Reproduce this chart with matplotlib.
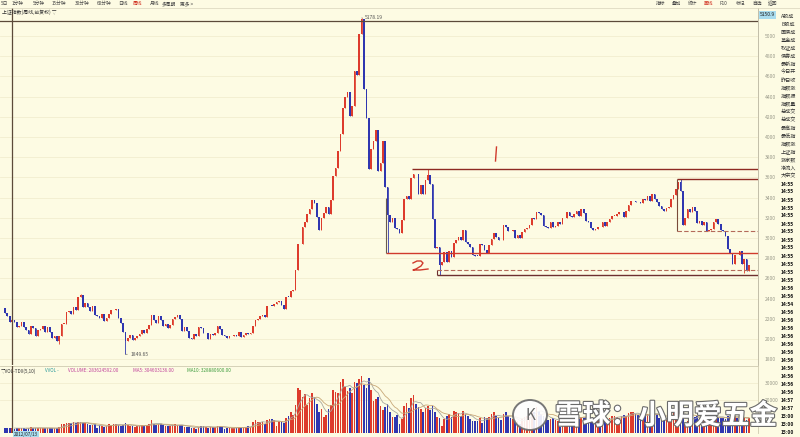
import numpy as np
import pandas as pd
import matplotlib
matplotlib.use("Agg")
import matplotlib.pyplot as plt
import matplotlib.patheffects as pe
from matplotlib.lines import Line2D
from matplotlib.patches import Ellipse

plt.rcParams['font.family'] = ['Noto Sans CJK SC', 'DejaVu Sans']

# weekly closes, Shanghai composite, mid 2012 -> Aug 2018 (holiday weeks skipped)
c2012 = [2260, 2225, 2171, 2185, 2168, 2117, 2132, 2168, 2115, 2092, 2047, 2127, 2114, 2027,
         2086, 2104, 2128, 2066, 2117, 2069, 2015, 2027, 1980, 2033, 2150, 2153, 2269]
c2013 = [2276, 2243, 2317, 2292, 2419, 2432, 2314, 2359, 2318, 2278, 2328, 2237, 2226, 2206,
         2244, 2177, 2205, 2246, 2283, 2288, 2301, 2210, 2162, 2073, 1979, 2007, 2039, 1992,
         2010, 2029, 2052, 2085, 2057, 2098, 2139, 2236, 2191, 2160, 2228, 2193, 2133, 2149,
         2106, 2135, 2197, 2220, 2237, 2196, 2084, 2116]
c2014 = [2083, 2013, 2004, 2054, 2033, 2115, 2113, 2056, 2057, 2004, 2047, 2041, 2058, 2130,
         2097, 2036, 2026, 2011, 2026, 2034, 2039, 2029, 2070, 2025, 2036, 2059, 2046, 2059,
         2126, 2185, 2194, 2226, 2240, 2217, 2326, 2331, 2329, 2347, 2364, 2374, 2341, 2302,
         2420, 2418, 2478, 2487, 2683, 2938, 2938, 3108, 3157, 3235]
c2015 = [3286, 3376, 3351, 3210, 3076, 3203, 3246, 3310, 3241, 3373, 3617, 3691, 3863, 4034,
         4287, 4394, 4441, 4205, 4308, 4657, 4611, 5023, 5166, 4478, 4192, 3686, 3877, 3957,
         4070, 3664, 3744, 3965, 3507, 3232, 3160, 3200, 3097, 3092, 3053, 3183, 3391, 3412,
         3383, 3590, 3632, 3630, 3436, 3525, 3434, 3578, 3627, 3539]
c2016 = [3186, 2900, 2916, 2737, 2763, 2860, 2767, 2874, 2810, 2955, 2979, 3009, 2984, 3078,
         2960, 2938, 2913, 2827, 2825, 2822, 2938, 2927, 2885, 2854, 2933, 2988, 3054, 3012,
         2979, 2976, 3125, 3108, 3070, 3067, 3078, 3002, 3033, 3004, 3063, 3090, 3104, 3125,
         3196, 3192, 3261, 3243, 3232, 3122, 3110, 3103]
c2017 = [3154, 3112, 3123, 3159, 3140, 3196, 3202, 3253, 3218, 3212, 3237, 3269, 3222, 3286,
         3246, 3173, 3154, 3103, 3083, 3090, 3107, 3105, 3158, 3123, 3157, 3192, 3217, 3222,
         3237, 3253, 3262, 3208, 3268, 3331, 3365, 3365, 3353, 3352, 3348, 3390, 3378, 3416,
         3371, 3432, 3382, 3353, 3317, 3289, 3266, 3297, 3307]
c2018 = [3391, 3429, 3487, 3558, 3462, 3129, 3199, 3289, 3254, 3307, 3269, 3152, 3168, 3131,
         3159, 3071, 3082, 3091, 3163, 3193, 3141, 3075, 3067, 3021, 2889, 2847, 2747, 2831,
         2829, 2874, 2740, 2795, 2669, 2729]
first_open = 2306

# weekly volume (axis units)
v2012 = [3200, 2900, 3100, 2800, 2700, 3000, 2900, 3100, 2800, 2700, 2900, 3600, 3300, 2800,
         3100, 2900, 3300, 2900, 3000, 2800, 2900, 2800, 3100, 3600, 5200, 5600, 6200]
v2013 = [6100, 5800, 6600, 6000, 6800, 6400, 5900, 6200, 5400, 4600, 4700, 5200, 3300, 4700,
         4400, 3900, 4000, 5300, 5000, 5300, 5600, 4900, 4300, 4800, 5900, 4700, 4500, 4100,
         3900, 4200, 4400, 4900, 4300, 5000, 5300, 8000, 5400, 4700, 5600, 5300, 4800, 4300,
         4200, 4100, 4900, 5300, 5000, 4700, 4600, 3800]
v2014 = [3500, 3600, 3200, 3300, 2300, 3900, 4500, 4400, 3500, 3300, 3500, 3400, 3700, 4400,
         4300, 3500, 2600, 3000, 3100, 3000, 3200, 3200, 3500, 3200, 3400, 3900, 4200, 3900,
         6400, 7600, 6900, 6500, 6800, 5500, 7600, 8500, 8300, 7600, 4500, 7500, 7000, 6200,
         9200, 10500, 12500, 11000, 17000, 27000, 26000, 22000, 23500, 17000]
v2015 = [21500, 24000, 22000, 17500, 13000, 14500, 9500, 11000, 14500, 17000, 26000, 25000,
         24000, 31000, 33000, 28000, 25500, 27000, 24500, 31000, 30500, 33000, 34500, 29000,
         27500, 33500, 26000, 19500, 20500, 22000, 16500, 14000, 15500, 17500, 12500, 9800,
         9500, 11000, 5200, 8600, 16500, 18000, 15000, 21500, 23000, 17500, 15500, 14500,
         13000, 15000, 16500, 14000]
v2016 = [16500, 12500, 9500, 9000, 4200, 8500, 10000, 11500, 9500, 13500, 12500, 12000, 10000,
         13500, 11500, 10000, 8500, 7500, 7000, 7400, 9000, 6000, 9500, 9000, 9800, 11500,
         12500, 10500, 9000, 8000, 11500, 12500, 10000, 9000, 8500, 8000, 7000, 5500, 8500,
         9500, 10000, 9800, 13500, 13000, 15500, 13500, 11500, 10500, 9000, 7800]
v2017 = [8500, 9000, 8000, 7500, 3500, 9500, 10500, 10800, 9800, 9500, 9200, 10500, 8500, 9500,
         9000, 9500, 8000, 7500, 7800, 7200, 7000, 7500, 8200, 8500, 8000, 9000, 10000, 10500,
         9800, 9200, 10200, 11000, 10500, 12000, 13000, 12500, 11500, 11000, 9500, 10500, 11000,
         11500, 11000, 12000, 13000, 11500, 9000, 8500, 8000, 7800, 8000]
v2018 = [12000, 13000, 14000, 14500, 12500, 11000, 6000, 7500, 9000, 10500, 9500, 10000, 9000,
         8500, 8000, 9500, 8500, 9000, 10500, 11000, 9500, 9000, 8800, 8500, 10000, 9500, 10500,
         10000, 9000, 10500, 8500, 9000, 8000, 9000]

# notable wick extremes (candle index, price)
hi_idx = [32, 151, 179, 286]
hi_val = [2444.8, 5178.19, 3684.57, 3587.03]
lo_idx = [23, 51, 162, 184, 313]
lo_val = [1949.0, 1849.65, 2850.71, 2638.30, 2653.11]

# hand drawn level lines: (price, start index)
solid_levels = [(3684, 172.3, '#8e2a22'), (2850, 161.3, '#d03a2c'), (2634, 182.9, '#6e3030'),
                (3587, 284.5, '#8e2a22')]
dashed_levels = [(2683, 182.9), (3069, 284.5)]

price_ticks = list(range(1800, 5001, 200))
vol_ticks = [20000, 30000]

toolbar_left = ["5日", "1分钟", "5分钟", "15分钟", "30分钟", "60分钟", "日线", "周线", "月线", "多周期", "更多 >"]
toolbar_right = ["指标", "叠加", "统计", "画线", "F10", "标记", "自选", "返回"]
info_lines = ["A股成", "B股成", "国债成", "基金成", "权证成", "债券成", "最新指",
              "今日开", "昨日收", "指数涨", "指数振", "指数量", "总成交", "总成交",
              "最高指", "最低指", "指数涨", "上证指", "涨家数", "净流入", "大宗交"]
times = ["14:55"] * 13 + ["14:56"] * 2 + ["14:54"] + ["14:56"] * 11 + ["14:57"] * 2 + ["15:00"] * 3

closes = c2012 + c2013 + c2014 + c2015 + c2016 + c2017 + c2018
vols = v2012 + v2013 + v2014 + v2015 + v2016 + v2017 + v2018
n = len(closes)
idx = np.arange(n)
opens = [first_open] + closes[:-1]
c = np.array(closes, float)
o = np.array(opens, float)
hi = np.maximum(o, c)
lo = np.minimum(o, c)
for i, v in zip(hi_idx, hi_val):
    hi[i] = max(hi[i], v)
for i, v in zip(lo_idx, lo_val):
    lo[i] = min(lo[i], v)
up = c >= o

W, H = 800, 437
BG = '#fdfbe3'
RED = '#dd3b2c'
BLUE = '#2f36b0'
XL = (-2.1, 318.8)

fig = plt.figure(figsize=(8, 4.37), dpi=100, facecolor=BG)


def add_ax(x0, y0, x1, y1):
    a = fig.add_axes([x0 / W, 1 - y1 / H, (x1 - x0) / W, (y1 - y0) / H])
    a.set_facecolor(BG)
    return a


def fx(x):
    return x / W


def fy(y):
    return 1 - y / H


# price panel
ax = add_ax(0, 8, 758, 365)
ax.set_xlim(*XL)
ax.set_ylim(1743, 5277)
for p in price_ticks:
    ax.axhline(p, color='#efeacb', lw=0.5, zorder=0)
col = np.where(up, RED, BLUE)
ax.vlines(idx, lo, hi, colors=col, lw=0.6, zorder=2)
body = np.maximum(np.abs(c - o), 6)
ax.bar(idx, body, bottom=np.minimum(o, c), width=0.7, color=col, lw=0, zorder=3)

ax.yaxis.tick_right()
ax.set_yticks(price_ticks)
ax.tick_params(axis='y', labelsize=3.6, colors='#9a9a8a', length=0, pad=5)
ax.set_xticks([])
for s in ['left', 'top', 'bottom']:
    ax.spines[s].set_visible(False)
ax.spines['right'].set_color('#b8b4a0')
ax.spines['right'].set_linewidth(0.6)

# crosshair
cursor_idx = 3
cursor_price = 5150.9
ax.axhline(cursor_price, color='#5c4a3a', lw=0.9, zorder=4)
ax.axvline(cursor_idx, color='#5c4a3a', lw=0.9, zorder=4)

# level lines
for p, s, cl in solid_levels:
    ax.hlines(p, s, XL[1], colors=cl, lw=1.0, zorder=5)
for p, s in dashed_levels:
    ax.hlines(p, s, XL[1], colors='#b46a5a', lw=0.8, linestyles=(0, (4, 2)), zorder=5)
ax.vlines(161.3, 2850, 3400, colors='#6a5a50', lw=0.8, zorder=5)
ax.vlines(182.9, 2634, 2683, colors='#6e3030', lw=0.8, zorder=5)
ax.vlines(284.5, 3069, 3587, colors='#7a4a3a', lw=0.8, zorder=5)

# extreme labels
ax.annotate('5178.19', (151, 5178.19), xytext=(152.5, 5178.19), fontsize=3.6, color='#555',
            va='center', ha='left', arrowprops=dict(arrowstyle='-', lw=0.4, color='#555'))
ax.annotate('1849.65', (51, 1849.65), xytext=(53, 1849.65), fontsize=3.6, color='#555',
            va='center', ha='left', arrowprops=dict(arrowstyle='-', lw=0.4, color='#555'))

# volume panel
av = add_ax(0, 366, 758, 433)
av.set_xlim(*XL)
av.set_ylim(0, 40600)
av.bar(idx, vols, width=0.7, color=col, lw=0, zorder=3)
vs = pd.Series(vols, dtype=float)
av.plot(idx, vs.rolling(5).mean(), color='#a8a8a0', lw=0.6, zorder=4)
av.plot(idx, vs.rolling(10).mean(), color='#c8a878', lw=0.6, zorder=4)
av.axvline(cursor_idx, color='#5c4a3a', lw=0.9, zorder=4)
for p in vol_ticks:
    av.axhline(p, color='#efeacb', lw=0.5, zorder=0)
av.yaxis.tick_right()
av.set_yticks(vol_ticks)
av.tick_params(axis='y', labelsize=3.6, colors='#9a9a8a', length=0, pad=5)
av.set_xticks([])
for s in ['left', 'bottom']:
    av.spines[s].set_visible(False)
for s in ['top', 'right']:
    av.spines[s].set_color('#cfcab0')
    av.spines[s].set_linewidth(0.6)

# volume header
hdr = [(1, "▽VOL-TDX(5,10)", '#333333'), (45, "VVOL -", '#2a9a9a'),
       (68, "VOLUME: 283624592.00", '#c0409a'), (133, "MA5: 304603136.00", '#c0409a'),
       (187, "MA10: 328880600.00", '#3a9a3a')]
for x, t, cl in hdr:
    fig.text(fx(x), fy(371), t, fontsize=3.3, color=cl, va='center', ha='left')

# toolbar + title
tl_x = [1, 12, 33, 52, 75, 97, 118, 133, 150, 162, 180]
for x, t in zip(tl_x, toolbar_left):
    fig.text(fx(x), fy(3.5), t, fontsize=3.4, color='#d03020' if t == "周线" else '#444',
             va='center', ha='left')
tr_x = [656, 672, 688, 704, 720, 736, 752, 768]
for x, t in zip(tr_x, toolbar_right):
    fig.text(fx(x), fy(3.5), t, fontsize=3.4, color='#d03020' if t == "画线" else '#444',
             va='center', ha='left')
fig.add_artist(Line2D([0, 1], [fy(8), fy(8)], color='#d8d4bc', lw=0.5))
fig.text(fx(2), fy(12.5), "上证指数(周线,前复权) ▽", fontsize=3.5, color='#333', va='center', ha='left')

# crosshair value boxes
fig.text(fx(760), fy(15), "5150.9", fontsize=3.6, color='#222', va='center', ha='left',
         bbox=dict(boxstyle='square,pad=0.25', fc='#a9dcee', ec='none'))
fig.text(fx(14), fy(434.5), "2012/07/13", fontsize=3.3, color='#222', va='center', ha='left',
         bbox=dict(boxstyle='square,pad=0.15', fc='#a9dcee', ec='none'))

# right info column
step = 8.0
for k, t in enumerate(info_lines):
    fig.text(fx(781), fy(16 + step * k), t, fontsize=3.7, color='#333', va='center', ha='left')
for k, t in enumerate(times):
    fig.text(fx(781), fy(16 + step * (k + 21)), t, fontsize=3.5, color='#111', weight='bold',
             va='center', ha='left')

# hand written marks
one_x = [496.5, 496.0, 495.5]
one_y = [147, 154, 161]
fig.add_artist(Line2D([fx(v) for v in one_x], [fy(v) for v in one_y], color='#d03a2c', lw=1.0))
two_x = [413, 417, 421, 423, 421, 416, 413, 420, 428]
two_y = [263, 261, 261, 263, 266, 269, 270, 270, 269]
fig.add_artist(Line2D([fx(v) for v in two_x], [fy(v) for v in two_y], color='#d03a2c', lw=1.0))

# watermark
fig.add_artist(Ellipse((fx(530), fy(415)), 34 / W, 30 / H, transform=fig.transFigure,
                       fc='white', ec='#6a6a6a', lw=1.4, alpha=0.9, zorder=10))
fig.text(fx(530), fy(415), "K", fontsize=11, color='#6a6a6a', ha='center', va='center', zorder=11)
fig.text(fx(555), fy(416), "雪球：小明爱五金", fontsize=20, color='white', ha='left', va='center',
         weight='bold', zorder=11,
         path_effects=[pe.withStroke(linewidth=1.6, foreground='#6a6a6a')])

fig.savefig('out.png', dpi=100, facecolor=BG)
